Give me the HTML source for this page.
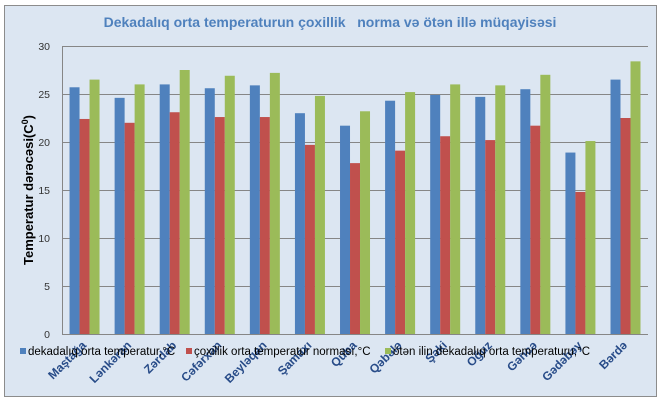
<!DOCTYPE html>
<html>
<head>
<meta charset="utf-8">
<style>
  html, body { margin: 0; padding: 0; background: #ffffff; }
  body { width: 662px; height: 402px; overflow: hidden; }
  svg { display: block; }
  text { font-family: "Liberation Sans", Arial, sans-serif; }
</style>
</head>
<body>
<svg width="662" height="402" viewBox="0 0 662 402" xmlns="http://www.w3.org/2000/svg">
  <rect x="0" y="0" width="662" height="402" fill="#ffffff"/>
  <rect x="4.5" y="5.5" width="652" height="391" fill="#dce6f2" stroke="#8c8c8c" stroke-width="1"/>

  <!-- Title -->
  <text x="330" y="27" text-anchor="middle" font-size="14" font-weight="bold" fill="#4f81bd" xml:space="preserve">Dekadalıq orta temperaturun çoxillik   norma və ötən illə müqayisəsi</text>

  <!-- Gridlines -->
  <g stroke="#868686" stroke-width="1">
    <line x1="62" y1="46.5" x2="648" y2="46.5"/>
    <line x1="62" y1="94.5" x2="648" y2="94.5"/>
    <line x1="62" y1="142.5" x2="648" y2="142.5"/>
    <line x1="62" y1="190.5" x2="648" y2="190.5"/>
    <line x1="62" y1="238.5" x2="648" y2="238.5"/>
    <line x1="62" y1="286.5" x2="648" y2="286.5"/>
  </g>

  <!-- Y tick labels -->
  <g font-size="10.5" fill="#333333" text-anchor="end">
    <text x="50" y="50">30</text>
    <text x="50" y="98">25</text>
    <text x="50" y="146">20</text>
    <text x="50" y="194">15</text>
    <text x="50" y="242">10</text>
    <text x="50" y="290">5</text>
    <text x="50" y="338">0</text>
  </g>

  <!-- Y axis title -->
  <text transform="translate(33,190) rotate(-90)" text-anchor="middle" font-size="13" font-weight="bold" fill="#000000">Temperatur dərəcəsi(C<tspan font-size="9" dy="-5">0</tspan><tspan dy="5">)</tspan></text>

  <!-- Bars -->
  <g>
    <g fill="#4f81bd">
      <rect x="69.54" y="87.28" width="10" height="246.72"/>
      <rect x="114.62" y="97.84" width="10" height="236.16"/>
      <rect x="159.70" y="84.4" width="10" height="249.6"/>
      <rect x="204.78" y="88.24" width="10" height="245.76"/>
      <rect x="249.86" y="85.36" width="10" height="248.64"/>
      <rect x="294.94" y="113.2" width="10" height="220.8"/>
      <rect x="340.02" y="125.68" width="10" height="208.32"/>
      <rect x="385.10" y="100.72" width="10" height="233.28"/>
      <rect x="430.18" y="94.96" width="10" height="239.04"/>
      <rect x="475.26" y="96.88" width="10" height="237.12"/>
      <rect x="520.34" y="89.2" width="10" height="244.8"/>
      <rect x="565.42" y="152.56" width="10" height="181.44"/>
      <rect x="610.50" y="79.6" width="10" height="254.4"/>
    </g>
    <g fill="#c0504d">
      <rect x="79.54" y="118.96" width="10" height="215.04"/>
      <rect x="124.62" y="122.8" width="10" height="211.2"/>
      <rect x="169.70" y="112.24" width="10" height="221.76"/>
      <rect x="214.78" y="117.04" width="10" height="216.96"/>
      <rect x="259.86" y="117.04" width="10" height="216.96"/>
      <rect x="304.94" y="144.88" width="10" height="189.12"/>
      <rect x="350.02" y="163.12" width="10" height="170.88"/>
      <rect x="395.10" y="150.64" width="10" height="183.36"/>
      <rect x="440.18" y="136.24" width="10" height="197.76"/>
      <rect x="485.26" y="140.08" width="10" height="193.92"/>
      <rect x="530.34" y="125.68" width="10" height="208.32"/>
      <rect x="575.42" y="191.92" width="10" height="142.08"/>
      <rect x="620.50" y="118" width="10" height="216"/>
    </g>
    <g fill="#9bbb59">
      <rect x="89.54" y="79.6" width="10" height="254.4"/>
      <rect x="134.62" y="84.4" width="10" height="249.6"/>
      <rect x="179.70" y="70" width="10" height="264"/>
      <rect x="224.78" y="75.76" width="10" height="258.24"/>
      <rect x="269.86" y="72.88" width="10" height="261.12"/>
      <rect x="314.94" y="95.92" width="10" height="238.08"/>
      <rect x="360.02" y="111.28" width="10" height="222.72"/>
      <rect x="405.10" y="92.08" width="10" height="241.92"/>
      <rect x="450.18" y="84.4" width="10" height="249.6"/>
      <rect x="495.26" y="85.36" width="10" height="248.64"/>
      <rect x="540.34" y="74.8" width="10" height="259.2"/>
      <rect x="585.42" y="141.04" width="10" height="192.96"/>
      <rect x="630.50" y="61.36" width="10" height="272.64"/>
    </g>
  </g>

  <!-- Axes -->
  <g stroke="#868686" stroke-width="1">
    <line x1="62.5" y1="46" x2="62.5" y2="334"/>
    <line x1="62" y1="334.5" x2="648" y2="334.5"/>
  </g>

  <!-- Category labels -->
  <g font-size="12" font-weight="bold" fill="#274b88" text-anchor="end">
    <text transform="translate(87,346) rotate(-45)">Maştağa</text>
    <text transform="translate(132.1,346) rotate(-45)">Lənkəran</text>
    <text transform="translate(177.2,346) rotate(-45)">Zərdab</text>
    <text transform="translate(222.3,346) rotate(-45)">Cəfərxan</text>
    <text transform="translate(267.4,346) rotate(-45)">Beyləqan</text>
    <text transform="translate(312.4,346) rotate(-45)">Şamaxı</text>
    <text transform="translate(357.5,346) rotate(-45)">Quba</text>
    <text transform="translate(402.6,346) rotate(-45)">Qəbələ</text>
    <text transform="translate(447.7,346) rotate(-45)">Şəki</text>
    <text transform="translate(492.8,346) rotate(-45)">Oğuz</text>
    <text transform="translate(537.8,346) rotate(-45)">Gəncə</text>
    <text transform="translate(582.9,346) rotate(-45)">Gədəbəy</text>
    <text transform="translate(628,346) rotate(-45)">Bərdə</text>
  </g>

  <!-- Legend -->
  <g font-size="11.5" fill="#000000">
    <rect x="20" y="348" width="6" height="6" fill="#4f81bd"/>
    <text x="28" y="355">dekadalıq orta temperatur,°C</text>
    <rect x="186" y="348" width="6" height="6" fill="#c0504d"/>
    <text x="194" y="355">çoxillik orta temperatur norması,°C</text>
    <rect x="385" y="348" width="6" height="6" fill="#9bbb59"/>
    <text x="393" y="355">ötən ilin dekadalıq orta temperaturu,°C</text>
  </g>
</svg>
</body>
</html>
